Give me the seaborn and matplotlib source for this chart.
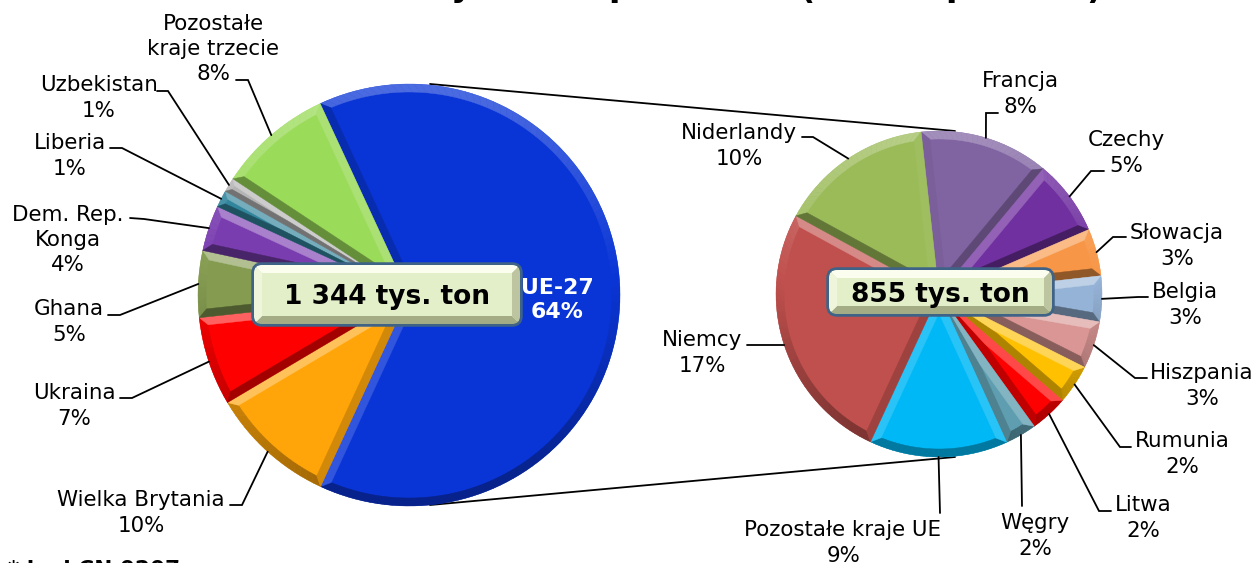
import numpy as np
import matplotlib
matplotlib.use('Agg')
import matplotlib.pyplot as plt
import seaborn as sns
from matplotlib.colors import to_rgb
from matplotlib.patches import FancyBboxPatch

left_names = ['UE-27', 'Wielka Brytania', 'Ukraina', 'Ghana', 'Dem. Rep.\nKonga',
              'Liberia', 'Uzbekistan', 'Pozostałe\nkraje trzecie']
left_shares = [63.8, 9.6, 6.8, 5.1, 3.5, 1.3, 1.1, 8.8]
left_pct = ['64%', '10%', '7%', '5%', '4%', '1%', '1%', '8%']
left_colors = ['#0A35D6', '#FFA50A', '#FF0000', '#849B50', '#7A3DB0',
               '#31859C', '#B4B4B4', '#9BDB5A']

right_names = ['Francja', 'Czechy', 'Słowacja', 'Belgia', 'Hiszpania', 'Rumunia', 'Litwa',
               'Węgry', 'Pozostałe kraje UE', 'Niemcy', 'Niderlandy']
right_shares = [8.2, 4.8, 3.0, 2.9, 3.0, 2.5, 2.4, 2.0, 8.8, 16.7, 9.8]
right_pct = ['8%', '5%', '3%', '3%', '3%', '2%', '2%', '2%', '9%', '17%', '10%']
right_colors = ['#8064A2', '#7030A0', '#F79646', '#95B3D7', '#D99694', '#FFC000',
                '#FF0000', '#5F9EB0', '#00B8F5', '#C0504D', '#9BBB59']

left_total = '1 344 tys. ton'
right_total = '855 tys. ton'
footnote = '* kod CN 0207'
title_bits = ['y', 'p', '(', 'p', ')']

# uklad w pikselach obrazka (y od gory)
W, H = 1253, 563
title_x = [461, 620, 807, 957, 1094]
title_base = [-4, -4, -1, -4, -1]
left_text_xy = [None, (141, 513), (74, 406), (69, 322), (68, 240), (70, 156), (99, 98), (213, 49)]
left_elbow = [None, [(242, 505), (230, 505)], [(132, 398), (120, 398)], [(120, 315), (108, 315)],
              [(144, 219), (130, 218)], [(122, 148), (110, 148)], [(168, 91), (157, 91)],
              [(248, 80), (236, 80)]]
right_text_xy = [(1020, 94), (1126, 153), (1177, 246), (1185, 305), (1202, 386), (1182, 454),
                 (1143, 518), (1035, 536), (843, 543), (702, 353), (739, 146)]
right_elbow = [[(986, 113), (998, 113)], [(1091, 171), (1104, 171)], [(1113, 237), (1126, 237)],
               [(1138, 297), (1148, 297)], [(1135, 378), (1147, 378)], [(1120, 447), (1131, 447)],
               [(1099, 511), (1111, 511)], [(1022, 506)], [(940, 513)], [(747, 345)],
               [(813, 137), (802, 137)]]

sns.set_theme(style='white')
plt.rcParams['font.family'] = ['DejaVu Sans']
TEXT_SIZE = 15.4


def py(y):
    return H - y


def shade(color, s, light=0.4, dark=0.4):
    rgb = np.array(to_rgb(color))
    s = float(np.clip(s, -1, 1))
    if s >= 0:
        return tuple(rgb + (1 - rgb) * s * light)
    return tuple(rgb * (1 + s * dark))


def bevel(ax, wedge, color, depth):
    # krawedzie 3D liczone z katow wycinka zwroconego przez pie
    cx, cy = wedge.center
    r = wedge.r
    t1, t2 = np.radians(wedge.theta1), np.radians(wedge.theta2)
    half = (t2 - t1) / 2
    mid = (t1 + t2) / 2
    d = depth
    if half < np.pi / 2:
        d = min(depth, 0.7 * r * np.sin(half) / (1 + np.sin(half)))
    dist = d / np.sin(half)
    apex = (cx + dist * np.cos(mid), cy + dist * np.sin(mid))
    delta = np.arcsin(d / (r - d))

    def on(radius, t):
        return (cx + radius * np.cos(t), cy + radius * np.sin(t))

    n = max(int(np.degrees(t2 - t1) / 2), 2)
    outer = np.linspace(t1, t2, n + 1)
    inner = np.linspace(t1 + delta, t2 - delta, n + 1)
    for i in range(n):
        s = np.sin((outer[i] + outer[i + 1]) / 2) - 0.1
        c = shade(color, s, light=0.3, dark=0.35)
        pts = [on(r, outer[i]), on(r, outer[i + 1]), on(r - d, inner[i + 1]), on(r - d, inner[i])]
        ax.fill(*zip(*pts), color=c, lw=0.3, zorder=3)
    side1 = [(cx, cy), on(r, t1), on(r - d, t1 + delta), apex]
    side2 = [(cx, cy), on(r, t2), on(r - d, t2 - delta), apex]
    ax.fill(*zip(*side1), color=shade(color, np.sin(t1 - np.pi / 2), 0.38, 0.42), lw=0.3, zorder=3)
    ax.fill(*zip(*side2), color=shade(color, np.sin(t2 + np.pi / 2), 0.38, 0.42), lw=0.3, zorder=3)


def draw_pie(ax, shares, colors, center, radius, start):
    wedges, _ = ax.pie(shares, colors=colors, startangle=start, counterclock=False,
                       center=center, radius=radius, wedgeprops={'linewidth': 0}, frame=True)
    for w, c in zip(wedges, colors):
        w.set_zorder(2)
        bevel(ax, w, c, 8)
    return wedges


def leaders(ax, wedges, elbows):
    for w, pts in zip(wedges, elbows):
        if pts is None:
            continue
        t = np.radians((w.theta1 + w.theta2) / 2)
        xs = [w.center[0] + w.r * np.cos(t)] + [p[0] for p in pts]
        ys = [w.center[1] + w.r * np.sin(t)] + [py(p[1]) for p in pts]
        ax.plot(xs, ys, color='black', lw=1.3, zorder=4, solid_joinstyle='miter')


def total_box(ax, x0, y0, x1, y1, label, size):
    x, y, w, h = x0, py(y1), x1 - x0, y1 - y0
    ax.add_patch(FancyBboxPatch((x + 8, y + 8), w - 16, h - 16, boxstyle='round,pad=8,rounding_size=9',
                                fc='#E3EFC9', ec='#3F6386', lw=2.5, zorder=5))
    b = 9
    clip = FancyBboxPatch((x + 8, y + 8), w - 16, h - 16, boxstyle='round,pad=7,rounding_size=8',
                          transform=ax.transData, fc='none', ec='none')
    ax.add_patch(clip)
    facets = [
        ('#FBFEEE', [(x, y + h), (x + w, y + h), (x + w - b, y + h - b), (x + b, y + h - b)]),
        ('#A3AC84', [(x, y), (x + w, y), (x + w - b, y + b), (x + b, y + b)]),
        ('#EFF5DA', [(x, y), (x, y + h), (x + b, y + h - b), (x + b, y + b)]),
        ('#BCC4A0', [(x + w, y), (x + w, y + h), (x + w - b, y + h - b), (x + w - b, y + b)]),
    ]
    for c, pts in facets:
        poly = ax.fill(*zip(*pts), color=c, lw=0, zorder=6)[0]
        poly.set_clip_path(clip)
    ax.text(x + w / 2, y + h / 2 - 3, label, ha='center', va='center', fontsize=size,
            fontweight='bold', color='black', zorder=7)


fig = plt.figure(figsize=(W / 100, H / 100), dpi=100, facecolor='white')
ax = fig.add_axes([0, 0, 1, 1])

# linie laczace oba kola
ax.plot([430, 955], [py(84), py(131)], color='black', lw=1.3, zorder=1)
ax.plot([430, 955], [py(505), py(457)], color='black', lw=1.3, zorder=1)

left_wedges = draw_pie(ax, left_shares, left_colors, (409, py(295)), 211, 114.9)
right_wedges = draw_pie(ax, right_shares, right_colors, (939, py(294)), 163, 96.3)
leaders(ax, left_wedges, left_elbow)
leaders(ax, right_wedges, right_elbow)

for name, pct, xy in zip(left_names, left_pct, left_text_xy):
    if xy is not None:
        ax.text(xy[0], py(xy[1]), name + '\n' + pct, ha='center', va='center', ma='center',
                fontsize=TEXT_SIZE, linespacing=1.33, color='black', zorder=8)
for name, pct, xy in zip(right_names, right_pct, right_text_xy):
    ax.text(xy[0], py(xy[1]), name + '\n' + pct, ha='center', va='center', ma='center',
            fontsize=TEXT_SIZE, linespacing=1.33, color='black', zorder=8)

ax.text(557, py(300), left_names[0] + '\n' + left_pct[0], ha='center', va='center', ma='center',
        fontsize=15.8, linespacing=1.3, fontweight='bold', color='white', zorder=8)

total_box(ax, 253, 264, 521, 325, left_total, 19)
total_box(ax, 828, 269, 1053, 315, right_total, 19)

for bit, x, base in zip(title_bits, title_x, title_base):
    ax.text(x, py(base), bit, ha='center', va='baseline', fontsize=24, fontweight='bold', color='black')
ax.text(8, py(560), footnote, ha='left', va='top', fontsize=15.6, fontweight='bold', color='black')

ax.set_xlim(0, W)
ax.set_ylim(0, H)
ax.axis('off')
fig.savefig('out.png', dpi=100)
plt.close()
